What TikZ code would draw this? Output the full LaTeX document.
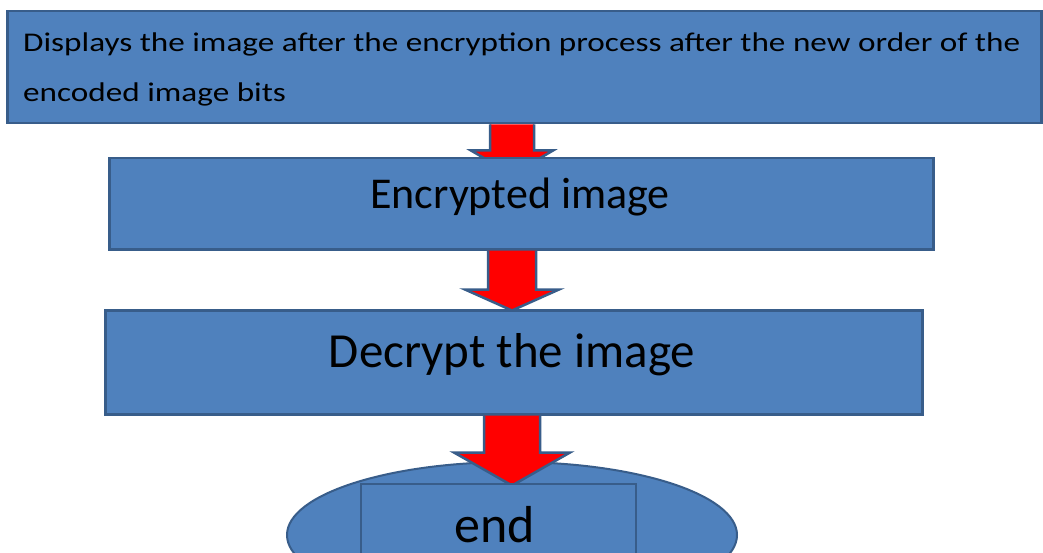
\documentclass[tikz,border=0pt]{standalone}
\usepackage{fontspec}
\setmainfont{Carlito}
\newfontfamily\widefont[FakeStretch=1.23]{Carlito}
\usetikzlibrary{calc,shapes.geometric}
\definecolor{boxfill}{HTML}{4F81BD}
\definecolor{boxline}{HTML}{385D8A}
\definecolor{arrowred}{HTML}{FF0000}
\tikzset{
  blockbox/.style={draw=boxline, line width=2.5pt, fill=boxfill, inner sep=0pt, text=black},
  blockarrow/.style={draw=boxline, line width=2.5pt, fill=arrowred, line join=miter},
  label text/.style={anchor=base, inner sep=0pt, text=black},
}
\begin{document}
\begin{tikzpicture}[x=1pt,y=-1pt]
\useasboundingbox (0,0) rectangle (1043,553);
\clip (0,0) rectangle (1043,553);
\fill[white] (0,0) rectangle (1043,553);
\coordinate (ax) at (512,0);
% top box
\node[blockbox, anchor=north west, minimum width=1034pt, minimum height=112pt] (b1) at (6,10) {};
\node[anchor=base west, align=left, inner sep=0pt,
      font=\widefont\fontsize{27}{50}\selectfont] (t1) at (23,102)
  {Displays the image after the encryption process after the new order of the\\encoded image bits};
% arrow 1 (mostly hidden)
\draw[blockarrow] ($(ax |- b1.south)+(-22,0)$) -- ++(0,26) -- ++(-19,0) -- ++(41,24) -- ++(41,-24) -- ++(-19,0) -- ++(0,-26);
% box 2
\node[blockbox, anchor=north west, minimum width=824pt, minimum height=91pt] (b2) at (108,157) {};
\node[label text, font=\fontsize{44}{54}\selectfont] (t2) at (520,209) {Encrypted image};
% arrow 2
\draw[blockarrow] ($(ax |- b2.south)+(-24,0)$) -- ++(0,39) -- ++(-23,0) -- ($(ax |- b2.south)+(0,60)$) coordinate (a2tip) -- ($(ax |- b2.south)+(47,39)$) -- ++(-23,0) -- ++(0,-39);
% box 3
\node[blockbox, anchor=north west, minimum width=817pt, minimum height=104pt] (b3) at (104,309) {};
\node[label text, font=\fontsize{49}{60}\selectfont] (t3) at (512,367) {Decrypt the image};
% ellipse
\node[ellipse, draw=boxline, line width=2pt, fill=boxfill, minimum width=450pt, minimum height=146pt, inner sep=0pt] (el) at (512,535) {};
% arrow 3
\draw[blockarrow] ($(ax |- b3.south)+(-28,0)$) -- ++(0,37) -- ++(-30,0) -- ($(ax |- b3.south)+(0,70)$) coordinate (a3tip) -- ($(ax |- b3.south)+(58,37)$) -- ++(-30,0) -- ++(0,-37);
% end box
\node[blockbox, line width=2pt, anchor=north west, minimum width=275pt, minimum height=120pt] (b4) at (360,483) {};
\node[label text, font=\fontsize{52}{60}\selectfont] (t4) at (495,542) {end};
\end{tikzpicture}
\end{document}
